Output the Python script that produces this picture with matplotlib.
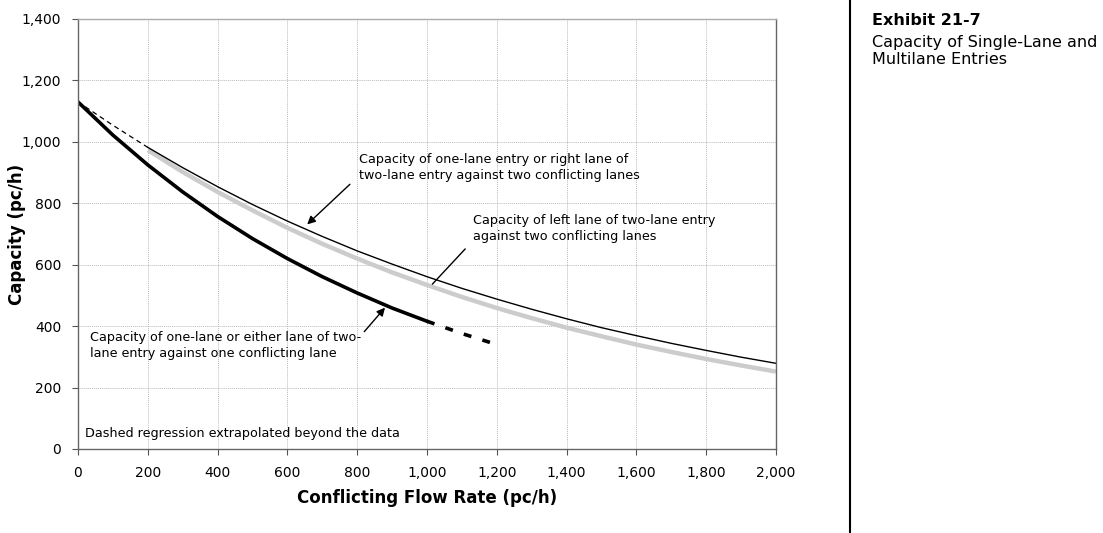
import matplotlib.pyplot as plt
from matplotlib.lines import Line2D

# conflicting flow rate (pc/h), every 100
flow = [0, 100, 200, 300, 400, 500, 600, 700, 800, 900, 1000,
        1100, 1200, 1300, 1400, 1500, 1600, 1700, 1800, 1900, 2000]

# one-lane entry / right lane vs two conflicting lanes (thin black)
cap_right = [1130, 1054, 982, 916, 854, 796, 742, 692, 645, 602, 561,
             523, 488, 455, 424, 395, 369, 344, 321, 299, 279]

# left lane of two-lane entry vs two conflicting lanes (grey)
cap_left = [1130, 1048, 973, 902, 837, 777, 720, 668, 620, 575, 534,
            495, 459, 426, 395, 367, 340, 316, 293, 272, 252]

# one-lane or either lane vs one conflicting lane (thick black)
flow_single = [0, 100, 200, 300, 400, 500, 600, 700, 800, 900, 1000]
cap_single = [1130, 1022, 925, 837, 757, 685, 620, 561, 508, 459, 416]
flow_single_ext = [1000, 1100, 1200]
cap_single_ext = [416, 376, 340]

plt.rcParams['font.family'] = 'DejaVu Sans'

fig = plt.figure(figsize=(11.03, 5.33), dpi=100)
ax = fig.add_axes([0.0707, 0.1576, 0.6328, 0.8068])

ax.plot(flow[2:], cap_left[2:], color="#cccccc", lw=3.2, solid_capstyle="butt")
ax.plot(flow[:3], cap_right[:3], color="black", lw=0.9, ls=(0, (4, 3)))
ax.plot(flow[2:], cap_right[2:], color="black", lw=1.0)
ax.plot(flow_single, cap_single, color="black", lw=2.6)
ax.plot(flow_single_ext, cap_single_ext, color="black", lw=2.6, ls=(0, (2.2, 3.2)))

ax.set_xlim(0, 2000)
ax.set_ylim(0, 1400)
ax.set_xticks(range(0, 2001, 200))
ax.set_yticks(range(0, 1401, 200))
ax.set_xticklabels([f"{v:,}" for v in range(0, 2001, 200)])
ax.set_yticklabels([f"{v:,}" for v in range(0, 1401, 200)])
ax.tick_params(labelsize=10, length=4, color="#555555", pad=8)
ax.grid(True, color="#bbbbbb", lw=0.7, ls=(0, (1, 1)))
for s in ax.spines.values():
    s.set_color("#666666")
    s.set_linewidth(1.0)
ax.spines["top"].set_color("#aaaaaa")

ax.set_xlabel("Conflicting Flow Rate (pc/h)", fontsize=12, fontweight="bold", labelpad=7)
ax.set_ylabel("Capacity (pc/h)", fontsize=12, fontweight="bold")
ax.yaxis.set_label_coords(-0.074, 0.5)

fs = 9.2
ax.text(805, 964, "Capacity of one-lane entry or right lane of\ntwo-lane entry against two conflicting lanes",
        fontsize=fs, va="top", linespacing=1.3)
ax.annotate("", xy=(651, 725), xytext=(785, 868),
            arrowprops=dict(arrowstyle="-|>", color="black", lw=1.0, mutation_scale=12))

ax.text(1132, 765, "Capacity of left lane of two-lane entry\nagainst two conflicting lanes",
        fontsize=fs, va="top", linespacing=1.3)
ax.annotate("", xy=(1010, 530), xytext=(1115, 658),
            arrowprops=dict(arrowstyle="-", color="black", lw=1.0))

ax.text(34, 384, "Capacity of one-lane or either lane of two-\nlane entry against one conflicting lane",
        fontsize=fs, va="top", linespacing=1.3)
ax.annotate("", xy=(885, 467), xytext=(815, 375),
            arrowprops=dict(arrowstyle="-|>", color="black", lw=1.0, mutation_scale=12))

ax.text(20, 50, "Dashed regression extrapolated beyond the data", fontsize=fs, va="center")

# separator and exhibit title
fig.add_artist(Line2D([0.7706, 0.7706], [0, 1], color="black", lw=1.5))
fig.text(0.7906, 0.975, "Exhibit 21-7", fontsize=11.5, fontweight="bold", va="top")
fig.text(0.7906, 0.935, "Capacity of Single-Lane and\nMultilane Entries", fontsize=11.5, va="top",
         linespacing=1.2)

fig.savefig("out.png", dpi=100)
